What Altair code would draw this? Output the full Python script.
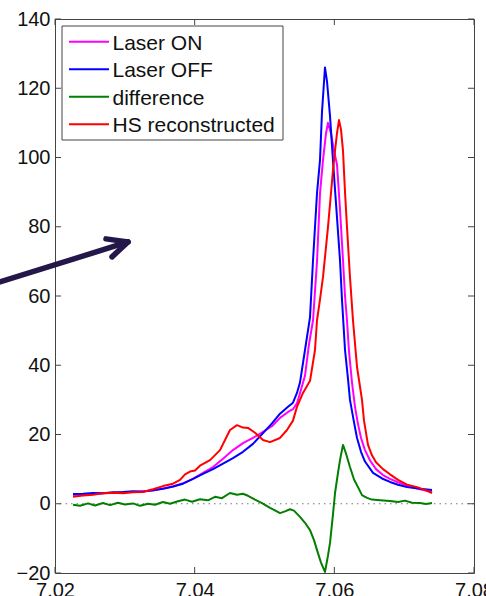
import altair as alt
import pandas as pd

# ---------------- data ----------------
on_x = [7.02258, 7.02401, 7.02544, 7.02687, 7.02831, 7.02974, 7.03117, 7.03260, 7.03403, 7.03547,
        7.03690, 7.03833, 7.03976, 7.04119, 7.04263, 7.04406, 7.04549, 7.04692, 7.04835, 7.04979,
        7.05107, 7.05222, 7.05337, 7.05408, 7.05465, 7.05523, 7.05580, 7.05637, 7.05695, 7.05752,
        7.05795, 7.05838, 7.05881, 7.05909, 7.05952, 7.05995, 7.06038, 7.06081, 7.06124, 7.06153,
        7.06181, 7.06210, 7.06253, 7.06296, 7.06339, 7.06382, 7.06439, 7.06511, 7.06597, 7.06697,
        7.06797, 7.06912, 7.07041, 7.07227, 7.07399]
on_y = [2.5, 2.7, 2.8, 3.0, 3.1, 3.3, 3.4, 3.6, 3.8, 4.4,
        5.0, 5.9, 7.2, 8.9, 10.6, 13.0, 15.5, 17.5, 19.0, 20.8,
        22.4, 24.8, 26.5, 27.3, 29, 33, 37, 46, 53, 70,
        89.7, 99.3, 107, 110, 107, 102, 98, 85, 70.4, 60,
        53, 44, 35, 28, 23, 19, 15.5, 12.5, 10, 8.3,
        7.2, 6.2, 5.2, 4.2, 3.4]

off_x = [7.02258, 7.02401, 7.02544, 7.02687, 7.02831, 7.02974, 7.03117, 7.03260, 7.03403, 7.03547,
         7.03690, 7.03833, 7.03976, 7.04119, 7.04263, 7.04406, 7.04549, 7.04692, 7.04835, 7.04979,
         7.05107, 7.05222, 7.05337, 7.05408, 7.05465, 7.05508, 7.05580, 7.05652, 7.05695, 7.05752,
         7.05795, 7.05823, 7.05866, 7.05895, 7.05938, 7.05981, 7.06038, 7.06081, 7.06110, 7.06153,
         7.06196, 7.06224, 7.06282, 7.06325, 7.06382, 7.06439, 7.06554, 7.06683, 7.06797, 7.06912,
         7.07041, 7.07227, 7.07399]
off_y = [2.8, 2.9, 3.1, 3.0, 3.3, 3.4, 3.6, 3.5, 3.9, 4.3,
         5.0, 5.8, 7.2, 8.6, 10.0, 11.6, 13.2, 15.0, 17.3, 20.4,
         23.2, 26.0, 28.0, 29.2, 32.0, 35.0, 44.4, 53.9, 70.4, 89.7,
         99.3, 113, 126, 122, 112, 99, 82.7, 70.4, 58.8, 44.4,
         36, 30, 23.5, 19, 15, 12.2, 8.9, 7.3, 6.3, 5.5,
         4.8, 4.3, 4.0]

diff_x = [7.02258, 7.02358, 7.02473, 7.02573, 7.02687, 7.02788, 7.02902, 7.03002, 7.03117, 7.03217,
          7.03332, 7.03432, 7.03547, 7.03647, 7.03761, 7.03862, 7.03962, 7.04076, 7.04191, 7.04291,
          7.04391, 7.04506, 7.04606, 7.04692, 7.04764, 7.04864, 7.04964, 7.05079, 7.05150, 7.05222,
          7.05294, 7.05365, 7.05422, 7.05508, 7.05580, 7.05652, 7.05709, 7.05752, 7.05809, 7.05866,
          7.05909, 7.05938, 7.05981, 7.06010, 7.06053, 7.06081, 7.06124, 7.06167, 7.06224, 7.06282,
          7.06339, 7.06396, 7.06468, 7.06539, 7.06654, 7.06797, 7.06912, 7.07012, 7.07112, 7.07227,
          7.07313, 7.07399]
diff_y = [-0.3, -0.6, 0.1, -0.5, 0.2, -0.4, 0.3, -0.2, 0.1, -0.6,
          0.0, -0.3, 0.5, 0.0, 0.7, 1.2, 0.6, 1.3, 1.0, 2.0,
          1.6, 3.1, 2.6, 2.9, 2.3, 1.2, 0.2, -1.2, -1.9, -2.7,
          -2.2, -1.6, -2.0, -3.8, -5.5, -7.6, -10.5, -13.4, -17, -19.7,
          -15, -11.3, -3, 3.1, 9, 12.6, 17.0, 14.5, 10.6, 7,
          4.8, 2.5, 1.7, 1.2, 1.0, 0.8, 0.5, 0.9, 0.3, 0.2,
          -0.1, 0.2]

hs_x = [7.02258, 7.02401, 7.02544, 7.02687, 7.02831, 7.02974, 7.03117, 7.03260, 7.03403, 7.03547,
        7.03690, 7.03790, 7.03862, 7.03933, 7.04005, 7.04076, 7.04220, 7.04363, 7.04506, 7.04606,
        7.04692, 7.04764, 7.04864, 7.04979, 7.05079, 7.05222, 7.05322, 7.05408, 7.05465, 7.05551,
        7.05652, 7.05723, 7.05752, 7.05795, 7.05838, 7.05909, 7.05981, 7.06010, 7.06038, 7.06067,
        7.06096, 7.06124, 7.06153, 7.06181, 7.06224, 7.06267, 7.06325, 7.06396, 7.06425, 7.06482,
        7.06539, 7.06597, 7.06697, 7.06797, 7.06912, 7.07041, 7.07184, 7.07298, 7.07399]
hs_y = [2.0, 2.4, 2.6, 3.0, 3.2, 3.0, 3.3, 3.4, 4.2, 5.1,
        5.8, 6.9, 8.5, 9.3, 9.6, 11, 12.6, 15.5, 21.3, 22.7,
        22.0, 21.9, 20.5, 18.4, 17.8, 19.0, 21.3, 24, 28, 32,
        35.5, 44.4, 53, 59, 65.5, 79.9, 96.4, 102, 107, 110.8,
        108, 102, 90, 80, 65.5, 53, 39.5, 30, 24, 17,
        14, 12, 10, 8.5, 6.9, 5.5, 4.8, 4.0, 3.1]

series_names = ["Laser ON", "Laser OFF", "difference", "HS reconstructed"]
series_colors = ["#ff00ff", "#0000ff", "#007f00", "#ff0000"]
series_x = [on_x, off_x, diff_x, hs_x]
series_y = [on_y, off_y, diff_y, hs_y]

x_ticks = [7.02, 7.04, 7.06, 7.08]
y_ticks = [-20, 0, 20, 40, 60, 80, 100, 120, 140]
zero_line = [0]

# annotation arrow (shaft + two head strokes), in data units
arrow_x1 = [7.01141, 7.03045, 7.03045]
arrow_y1 = [63.6, 75.6, 75.6]
arrow_x2 = [7.03045, 7.02730, 7.02816]
arrow_y2 = [75.6, 76.5, 71.3]

# ---------------- chart ----------------
W, H = 419, 554
FONT = "Liberation Sans"
xs = alt.Scale(domain=[7.02, 7.08], nice=False, zero=False)
ys = alt.Scale(domain=[-20, 140], nice=False, zero=False)
x_axis = alt.Axis(values=x_ticks, title=None, format=".2f", labelPadding=7, labelFlush=False,
                  labelOverlap=False, labelFontSize=20, ticks=False, domain=False, grid=False)
y_axis = alt.Axis(values=y_ticks, title=None, labelPadding=5, labelFontSize=20,
                  labelOverlap=False, ticks=False, domain=False, grid=False)


def X(f):
    return alt.X(f, scale=xs, axis=x_axis, title=None)


def Y(f):
    return alt.Y(f, scale=ys, axis=y_axis, title=None)


layers = []

# zero dotted line
zero_df = pd.DataFrame({"y": zero_line})
layers.append(
    alt.Chart(zero_df).mark_rule(color="#777777", strokeDash=[1.5, 4], strokeWidth=1.2).encode(
        y=Y("y:Q"),
    )
)

for name, col, xv, yv in zip(series_names, series_colors, series_x, series_y):
    df = pd.DataFrame({"x": xv, "y": yv})
    layers.append(
        alt.Chart(df).mark_line(color=col, strokeWidth=2, strokeJoin="round").encode(
            x=X("x:Q"), y=Y("y:Q"),
        )
    )

# inside ticks (MATLAB style box)
ytdf = pd.DataFrame({"y": y_ticks})
xtdf = pd.DataFrame({"x": x_ticks})
tick_style = dict(color="#444444", strokeWidth=1)
layers.append(alt.Chart(ytdf).mark_rule(**tick_style).encode(
    y=Y("y:Q"), x=alt.value(0), x2=alt.value(6)))
layers.append(alt.Chart(ytdf).mark_rule(**tick_style).encode(
    y=Y("y:Q"), x=alt.value(W - 6), x2=alt.value(W)))
layers.append(alt.Chart(xtdf).mark_rule(**tick_style).encode(
    x=X("x:Q"), y=alt.value(H - 6), y2=alt.value(H)))
layers.append(alt.Chart(xtdf).mark_rule(**tick_style).encode(
    x=X("x:Q"), y=alt.value(0), y2=alt.value(6)))

# arrow annotation
arrow_df = pd.DataFrame({"x": arrow_x1, "y": arrow_y1, "x2": arrow_x2, "y2": arrow_y2})
layers.append(
    alt.Chart(arrow_df).mark_rule(color="#24184a", strokeWidth=5.5, strokeCap="round",
                                  clip=False).encode(
        x=X("x:Q"), y=Y("y:Q"), x2="x2:Q", y2="y2:Q",
    )
)

# legend box
one = pd.DataFrame({"a": [0]})
layers.append(
    alt.Chart(one).mark_rect(fill="white", stroke="#444444", strokeWidth=1).encode(
        x=alt.value(7), x2=alt.value(228), y=alt.value(7), y2=alt.value(121)
    )
)
for i, (name, col) in enumerate(zip(series_names, series_colors)):
    ly = 22.7 + 27.5 * i
    layers.append(
        alt.Chart(one).mark_rule(color=col, strokeWidth=2).encode(
            x=alt.value(14), x2=alt.value(54), y=alt.value(ly), y2=alt.value(ly)
        )
    )
    layers.append(
        alt.Chart(pd.DataFrame({"t": [name]})).mark_text(
            align="left", baseline="alphabetic", font=FONT, fontSize=21, color="#111111"
        ).encode(x=alt.value(57.5), y=alt.value(31 + 27.4 * i), text="t:N")
    )

chart = alt.layer(*layers).properties(
    width=W, height=H,
    padding={"left": 55, "top": 19, "right": 12, "bottom": 23},
    autosize=alt.AutoSizeParams(type="none"),
    background="white",
).configure_view(
    stroke="#444444", strokeWidth=1
).configure_axis(
    labelFont=FONT, labelColor="#111111",
)

chart.save("out.html", embed_options={"renderer": "svg", "actions": False})
